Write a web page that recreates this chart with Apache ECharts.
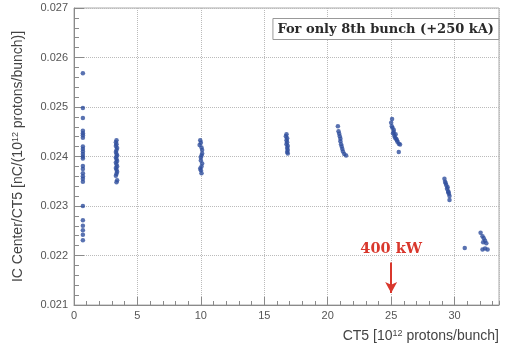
<!DOCTYPE html>
<html>
<head>
<meta charset="utf-8">
<script src="https://cdn.jsdelivr.net/npm/echarts@6/dist/echarts.min.js"></script>
<style>
  html, body { margin: 0; padding: 0; background: #fff; }
  #chart { width: 507px; height: 349px; }
</style>
</head>
<body>
<div id="chart"></div>
<script>
// IC Center / CT5 ratio for the 8th bunch, grouped by beam-intensity run
const runA_ct5   = [0.7, 0.7, 0.7, 0.7, 0.7, 0.7, 0.7, 0.7, 0.7, 0.7, 0.7, 0.7, 0.7, 0.7, 0.7, 0.7, 0.7, 0.7, 0.7, 0.7, 0.7, 0.7, 0.7, 0.7, 0.7];
const runA_ratio = [0.02568, 0.02498, 0.02478, 0.02452, 0.02447, 0.02443, 0.02438, 0.02420, 0.02415, 0.02410, 0.02405, 0.02400, 0.02396, 0.02381, 0.02375, 0.02366, 0.02360, 0.02355, 0.02349, 0.02300, 0.02271, 0.02260, 0.02251, 0.02242, 0.02231];

const runB_ct5   = [3.35, 3.3, 3.35, 3.3, 3.4, 3.35, 3.3, 3.35, 3.4, 3.3, 3.35, 3.4, 3.3, 3.35, 3.4, 3.3, 3.35, 3.4, 3.35, 3.3, 3.4, 3.35];
const runB_ratio = [0.02433, 0.02429, 0.02425, 0.02421, 0.02417, 0.02413, 0.02409, 0.02405, 0.02402, 0.02398, 0.02395, 0.02391, 0.02388, 0.02384, 0.02380, 0.02377, 0.02373, 0.02369, 0.02365, 0.02361, 0.02352, 0.02348];

const runC_ct5   = [9.95, 10.0, 9.9, 10.05, 10.1, 10.1, 10.05, 10.0, 10.0, 10.1, 10.05, 9.95, 10.0, 10.05];
const runC_ratio = [0.02433, 0.02428, 0.02423, 0.02418, 0.02413, 0.02406, 0.02402, 0.02398, 0.02392, 0.02386, 0.02380, 0.02376, 0.02372, 0.02366];

const runD_ct5   = [16.75, 16.7, 16.8, 16.75, 16.8, 16.75, 16.85, 16.8, 16.85, 16.8, 16.85];
const runD_ratio = [0.02445, 0.02441, 0.02437, 0.02433, 0.02429, 0.02425, 0.02421, 0.02417, 0.02413, 0.02409, 0.02406];

const runE_ct5   = [20.8, 20.85, 20.9, 20.95, 21.0, 21.0, 21.05, 21.1, 21.15, 21.2, 21.3, 21.45];
const runE_ratio = [0.02461, 0.02451, 0.02446, 0.02441, 0.02436, 0.02431, 0.02425, 0.02420, 0.02415, 0.02410, 0.02405, 0.02402];

const runF_ct5   = [25.07, 25.0, 25.05, 25.1, 25.2, 25.15, 25.2, 25.35, 25.25, 25.3, 25.4, 25.45, 25.5, 25.6, 25.7, 25.6];
const runF_ratio = [0.02476, 0.02468, 0.02461, 0.02458, 0.02454, 0.02447, 0.02450, 0.02445, 0.02442, 0.02438, 0.02436, 0.02433, 0.02430, 0.02426, 0.02424, 0.02409];

const runG_ct5   = [29.2, 29.25, 29.3, 29.35, 29.4, 29.45, 29.5, 29.5, 29.55, 29.6, 29.6];
const runG_ratio = [0.02355, 0.02349, 0.02346, 0.02342, 0.02335, 0.02338, 0.02330, 0.02328, 0.02325, 0.02320, 0.02312];

const runH_ct5   = [30.8];
const runH_ratio = [0.02215];

const runI_ct5   = [32.05, 32.2, 32.3, 32.4, 32.25, 32.5, 32.4, 32.6, 32.2];
const runI_ratio = [0.02246, 0.02239, 0.02235, 0.02230, 0.02227, 0.02225, 0.02214, 0.02212, 0.02212];

// Axis ranges and tick labels
const xRange = [0, 33.5];
const xTickLabels = [0, 5, 10, 15, 20, 25, 30];
const yRange = [0.021, 0.027];
const yTickLabels = ['0.021', '0.022', '0.023', '0.024', '0.025', '0.026', '0.027'];

// 400 kW marker: arrow at CT5 = 25 pointing to the axis
const markerCt5 = 25;
const markerArrow = [0.02186, 0.02124];

const runs = [
  [runA_ct5, runA_ratio], [runB_ct5, runB_ratio], [runC_ct5, runC_ratio],
  [runD_ct5, runD_ratio], [runE_ct5, runE_ratio], [runF_ct5, runF_ratio],
  [runG_ct5, runG_ratio], [runH_ct5, runH_ratio], [runI_ct5, runI_ratio]
];
const points = [];
runs.forEach(([xs, ys]) => xs.forEach((x, i) => points.push([x, ys[i]])));

const axisGray = '#8a8a8a';
const labelGray = '#555';

const chart = echarts.init(document.getElementById('chart'), null, { renderer: 'canvas' });
chart.setOption({
  animation: false,
  backgroundColor: '#fff',
  title: {
    text: 'For only 8th bunch (+250 kA)',
    right: 8,
    top: 18,
    padding: [5, 5, 4, 5],
    borderColor: '#999',
    borderWidth: 1,
    backgroundColor: '#fff',
    textStyle: {
      fontFamily: 'DejaVu Serif',
      fontWeight: 'bold',
      fontSize: 13,
      color: '#2a2a2a'
    }
  },
  grid: {
    left: 74, right: 8, top: 8, bottom: 44,
    show: true, borderColor: '#aaa', borderWidth: 1
  },
  xAxis: [{
    type: 'value',
    min: xRange[0], max: xRange[1], interval: 5,
    name: 'CT5 [10{sup|12} protons/bunch]',
    nameLocation: 'end',
    nameGap: 0,
    nameTextStyle: {
      fontFamily: 'Liberation Sans', fontSize: 14, color: '#444',
      align: 'right', verticalAlign: 'top', padding: [24, 0, 0, 0],
      rich: { sup: { fontSize: 9, verticalAlign: 'top', padding: [0, 0, 6, 0], color: '#444', fontFamily: 'Liberation Sans' } }
    },
    axisLine: { show: true, lineStyle: { color: axisGray } },
    axisTick: { show: true, inside: true, length: 8, lineStyle: { color: axisGray } },
    axisLabel: {
      color: labelGray, fontFamily: 'Liberation Sans', fontSize: 11, margin: 5,
      showMaxLabel: false,
      formatter: v => (xTickLabels.includes(v) ? String(v) : '')
    },
    splitLine: { show: true, lineStyle: { color: '#bbb', type: 'dotted' } }
  }, {
    // unit minor ticks along the CT5 axis
    type: 'value',
    position: 'bottom',
    min: xRange[0], max: xRange[1], interval: 1,
    axisLine: { show: false },
    axisTick: { show: true, inside: true, length: 4, lineStyle: { color: axisGray } },
    axisLabel: { show: false },
    splitLine: { show: false }
  }],
  yAxis: {
    type: 'value',
    min: yRange[0], max: yRange[1], interval: 0.001,
    name: 'IC Center/CT5 [nC/(10{sup|12} protons/bunch)]',
    nameLocation: 'middle',
    nameGap: 48,
    nameTextStyle: {
      fontFamily: 'Liberation Sans', fontSize: 14, color: '#444',
      rich: { sup: { fontSize: 9, verticalAlign: 'top', padding: [0, 0, 6, 0], color: '#444', fontFamily: 'Liberation Sans' } }
    },
    axisLine: { show: true, lineStyle: { color: axisGray } },
    axisTick: { show: true, inside: true, length: 10, lineStyle: { color: axisGray } },
    minorTick: { show: true, splitNumber: 5, length: 5, lineStyle: { color: axisGray } },
    axisLabel: {
      color: labelGray, fontFamily: 'Liberation Sans', fontSize: 11, margin: 6,
      formatter: v => yTickLabels.find(t => Math.abs(parseFloat(t) - v) < 1e-9) || ''
    },
    splitLine: { show: true, lineStyle: { color: '#bbb', type: 'dotted' } }
  },
  series: [{
    type: 'scatter',
    xAxisIndex: 0,
    data: points,
    symbol: 'circle',
    symbolSize: 4.5,
    itemStyle: { color: '#2f4f9e' },
    markLine: {
      silent: true,
      symbol: ['none', 'arrow'],
      symbolSize: [9, 11],
      lineStyle: { color: '#d9372c', width: 2, type: 'solid' },
      label: {
        show: true, position: 'start', distance: 6,
        formatter: '400 kW',
        color: '#d9372c', fontFamily: 'DejaVu Serif', fontWeight: 'bold', fontSize: 14.5
      },
      data: [[{ coord: [markerCt5, markerArrow[0]] }, { coord: [markerCt5, markerArrow[1]] }]]
    }
  }]
});
</script>
</body>
</html>
